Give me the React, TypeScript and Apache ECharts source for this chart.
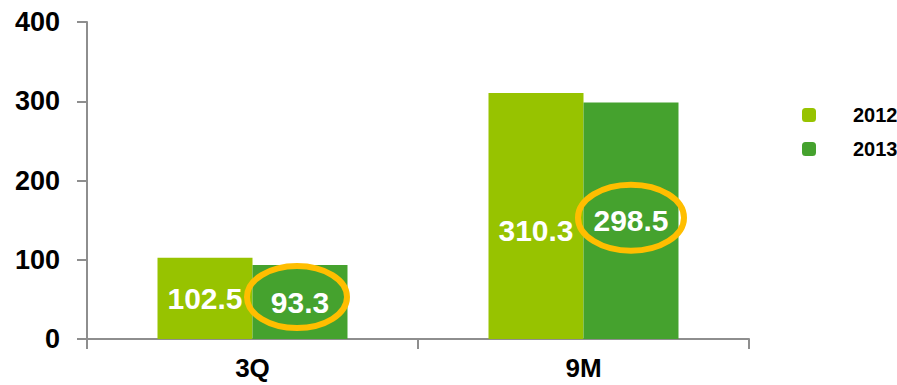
import React, { useEffect, useRef } from "react";
import * as echarts from "echarts";

const categories = ["3Q", "9M"];
const seriesNames = ["2012", "2013"];
const values2012 = [102.5, 310.3];
const values2013 = [93.3, 298.5];
const yTicks = { min: 0, max: 400, interval: 100 };
const colors = ["#97C300", "#45A22E"];
const ringColor = "#FFBE00";
const FONT = "'Liberation Sans', Arial, sans-serif";

export default function App() {
  const ref = useRef<HTMLDivElement>(null);
  useEffect(() => {
    if (!ref.current) return;
    const chart = echarts.init(ref.current, null, { renderer: "svg" });
    const axisLine = { show: true, lineStyle: { color: "#8E8E8E", width: 2 } };
    const labelStyle = {
      show: true,
      position: "inside",
      color: "#fff",
      fontFamily: FONT,
      fontWeight: "bold",
      fontSize: 30,
    };
    chart.setOption({
      animation: false,
      grid: { left: 87, right: 148, top: 22, bottom: 46 },
      legend: {
        orient: "vertical",
        left: 797,
        top: 100,
        itemWidth: 14,
        itemHeight: 14,
        itemGap: 14,
        icon: "roundRect",
        textStyle: {
          fontFamily: FONT,
          fontWeight: "bold",
          fontSize: 20,
          color: "#000",
          padding: [0, 0, 0, 32],
        },
        data: seriesNames,
      },
      xAxis: {
        type: "category",
        data: categories,
        axisLine,
        axisTick: { show: true, length: 10, lineStyle: { color: "#8E8E8E", width: 2 } },
        axisLabel: {
          margin: 16,
          color: "#000",
          fontFamily: FONT,
          fontWeight: "bold",
          fontSize: 26,
        },
      },
      yAxis: {
        type: "value",
        min: yTicks.min,
        max: yTicks.max,
        interval: yTicks.interval,
        splitLine: { show: false },
        axisLine,
        axisTick: { show: true, length: 10, lineStyle: { color: "#8E8E8E", width: 2 } },
        axisLabel: {
          margin: 27,
          color: "#000",
          fontFamily: FONT,
          fontWeight: "bold",
          fontSize: 27,
        },
      },
      series: [
        {
          name: seriesNames[0],
          type: "bar",
          barWidth: "28.7%",
          barGap: "0%",
          itemStyle: { color: colors[0] },
          label: labelStyle,
          data: values2012.map((v, i) =>
            i === 1 ? { value: v, label: { offset: [0, 14] } } : v
          ),
        },
        {
          name: seriesNames[1],
          type: "bar",
          barWidth: "28.7%",
          barGap: "0%",
          itemStyle: { color: colors[1] },
          label: labelStyle,
          data: values2013,
        },
      ],
    });

    const radii = [
      [50, 31],
      [53, 33],
    ];
    const model: any = (chart as any).getModel();
    const sdata = model.getSeriesByIndex(1).getData();
    const rings = values2013.map((v, i) => {
      const lay = sdata.getItemLayout(i);
      const cx = lay.x + lay.width / 2 - (i === 0 ? 3 : 0);
      const cy = lay.y + lay.height / 2 - (i === 0 ? 5 : 3);
      return {
        type: "ellipse",
        shape: { cx, cy, rx: radii[i][0], ry: radii[i][1] },
        style: { fill: "none", stroke: ringColor, lineWidth: 6 },
        z: 100,
      };
    });
    chart.setOption({ graphic: rings });
    return () => chart.dispose();
  }, []);
  return <div ref={ref} style={{ width: 897, height: 385, position: "absolute", left: 0, top: 0 }} />;
}
